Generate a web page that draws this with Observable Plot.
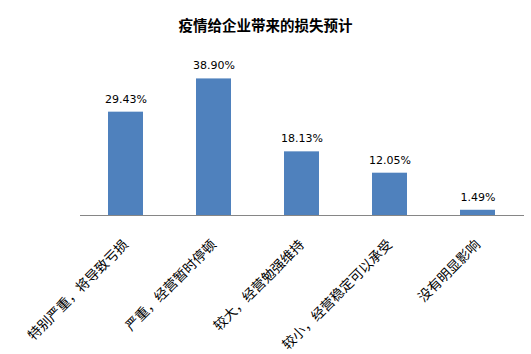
<!DOCTYPE html>
<html>
<head>
<meta charset="utf-8">
<script src="https://cdn.jsdelivr.net/npm/d3@7"></script>
<script src="https://cdn.jsdelivr.net/npm/@observablehq/plot@0.6"></script>
<style>
  body { margin: 0; background: #fff; }
  #title { height: 40px; line-height: 50px; text-align: center; font-family: "Noto Sans CJK SC", sans-serif; font-weight: bold; font-size: 14.5px; color: #000; }
</style>
</head>
<body>
<div id="title">疫情给企业带来的损失预计</div>
<div id="chart"></div>
<script>
const categories = ["特别严重，将导致亏损", "严重，经营暂时停顿", "较大，经营勉强维持", "较小，经营稳定可以承受", "没有明显影响"];
const values = [29.43, 38.90, 18.13, 12.05, 1.49];
const labels = ["29.43%", "38.90%", "18.13%", "12.05%", "1.49%"];

const data = categories.map((c, i) => ({ cat: c, value: values[i], label: labels[i] }));

const chart = Plot.plot({
  width: 531,
  height: 314,
  marginLeft: 80,
  marginRight: 7,
  marginTop: 17,
  marginBottom: 139,
  style: { fontFamily: "'Noto Sans CJK SC', sans-serif", background: "#fff" },
  x: { domain: categories, paddingInner: 0.6, paddingOuter: 0.3, label: null, axis: null },
  y: { domain: [0, 45], axis: null },
  marks: [
    Plot.barY(data, { x: "cat", y: "value", fill: "#4F81BD" }),
    Plot.ruleY([0], { stroke: "#868686", strokeWidth: 1 }),
    Plot.text(data, { x: "cat", y: "value", text: "label", dy: -13, fontSize: 11, fill: "#000", fontFamily: "'DejaVu Sans', sans-serif" }),
    Plot.text(data, { x: "cat", frameAnchor: "bottom", text: "cat", rotate: -45, textAnchor: "end", lineAnchor: "middle", dy: 27, fontSize: 13.5, fill: "#000", fontFamily: "'Noto Sans CJK SC', sans-serif" })
  ]
});
document.getElementById("chart").appendChild(chart);
</script>
</body>
</html>
